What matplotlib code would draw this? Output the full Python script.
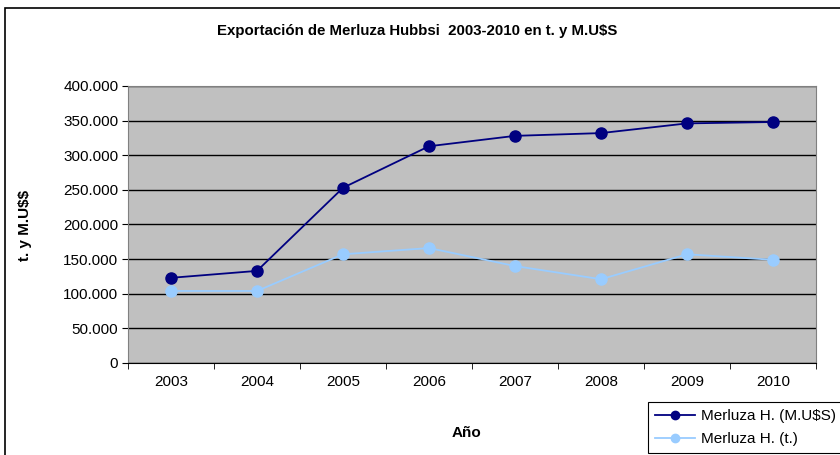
import matplotlib
matplotlib.use("Agg")
import matplotlib.pyplot as plt
from matplotlib.patches import Rectangle

plt.rcParams['font.family'] = ['Liberation Sans', 'DejaVu Sans']

years = ["2003", "2004", "2005", "2006", "2007", "2008", "2009", "2010"]
musd = [123000, 133000, 253000, 313000, 328000, 332000, 346000, 348000]
tons = [104000, 104000, 157000, 166000, 140000, 121000, 157000, 149000]
yticks = [0, 50000, 100000, 150000, 200000, 250000, 300000, 350000, 400000]
ytick_labels = ["0", "50.000", "100.000", "150.000", "200.000", "250.000",
                "300.000", "350.000", "400.000"]

W, H = 840, 455
fig = plt.figure(figsize=(W/100, H/100), dpi=100)
fig.patch.set_facecolor("white")

# outer chart border (cut off at right and bottom)
fig.patches.append(Rectangle((5/W, -0.05), 1.1, 1 - 8/H + 0.05, transform=fig.transFigure,
                             fill=False, edgecolor="black", linewidth=1.2, clip_on=False))

ax = fig.add_axes([128/W, (H-363)/H, 688/W, 277/H])
ax.set_facecolor("#C0C0C0")
x = list(range(len(years)))
ax.plot(x, musd, color="#000080", marker="o", markersize=8, linewidth=1.3,
        label="Merluza H. (M.U\\$S)", zorder=3)
ax.plot(x, tons, color="#99CCFF", marker="o", markersize=8, linewidth=1.3,
        label="Merluza H. (t.)", zorder=3)

ax.set_xlim(-0.5, len(years) - 0.5)
ax.set_ylim(0, 400000)
ax.set_yticks(yticks)
ax.set_yticklabels(ytick_labels, fontsize=11)
ax.set_xticks(x)
ax.set_xticklabels(years, fontsize=11)
ax.set_xticks([i - 0.5 for i in range(len(years) + 1)], minor=True)
ax.tick_params(axis="x", which="major", length=0, pad=9)
ax.tick_params(axis="x", which="minor", length=4, direction="out")
ax.tick_params(axis="y", length=4, direction="out", pad=3)
ax.yaxis.grid(True, color="black", linewidth=1)
ax.set_axisbelow(True)
for s in ["left", "right", "top"]:
    ax.spines[s].set_color("#808080")
ax.spines["bottom"].set_color("black")

fig.text(467/W, 1 - 433/H, "Año", ha="center", va="center", fontsize=11, fontweight="bold")
fig.text(25/W, 1 - 225/H, "t. y M.U\\$\\$", ha="center", va="center", rotation=90,
         fontsize=11, fontweight="bold")
fig.text(417/W, 1 - 31/H, "Exportación de Merluza Hubbsi  2003-2010 en t. y M.U\\$S",
         ha="center", va="center", fontsize=10.8, fontweight="bold")

leg = fig.legend(loc="upper left", bbox_to_anchor=(648/W, 1 - 402/H), fontsize=11,
                 frameon=True, fancybox=False, edgecolor="black", framealpha=1,
                 borderpad=0.45, handlelength=2.6, handletextpad=0.4, labelspacing=0.6,
                 borderaxespad=0, markerscale=0.75)
leg.get_frame().set_linewidth(0.8)

fig.savefig("out.png", dpi=100)
